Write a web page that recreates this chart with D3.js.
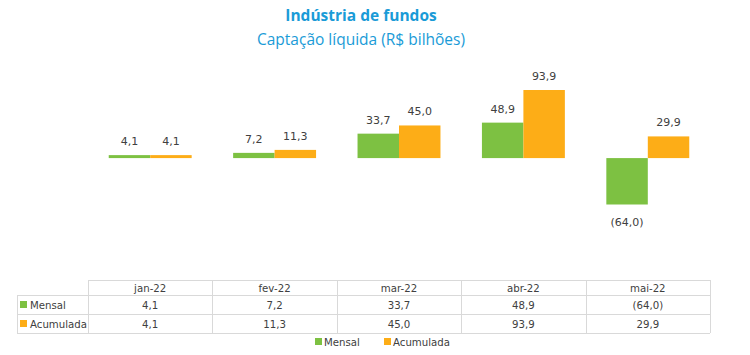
<!DOCTYPE html>
<html><head><meta charset="utf-8">
<script src="https://cdn.jsdelivr.net/npm/d3@7"></script>
<style>body{margin:0;background:#fff}svg{display:block}</style>
</head><body>
<svg id="c" width="750" height="355"></svg>
<script>
const categories = ["jan-22","fev-22","mar-22","abr-22","mai-22"];
const seriesNames = ["Mensal","Acumulada"];
const mensal = [4.1, 7.2, 33.7, 48.9, -64.0];
const acumulada = [4.1, 11.3, 45.0, 93.9, 29.9];
const colors = ["#7dc142","#fdad17"];

const fmt = v => { const s = Math.abs(v).toFixed(1).replace(".", ","); return v < 0 ? "(" + s + ")" : s; };
const svg = d3.select("#c");
const font = "DejaVu Sans, Verdana, sans-serif";
const txt = "#404040";
const fs = 10.2;

svg.append("text").attr("x",361).attr("y",21).attr("text-anchor","middle")
  .attr("font-family","Open Sans, sans-serif").attr("font-weight","bold").attr("font-size",15.5)
  .attr("fill","#1a9bd7").text("Indústria de fundos");
svg.append("text").attr("x",361).attr("y",45).attr("text-anchor","middle")
  .attr("font-family","Open Sans, sans-serif").attr("font-size",15.5)
  .attr("fill","#1a9bd7").text("Captação líquida (R$ bilhões)");

const x0 = d3.scaleBand().domain(categories).range([88,710]).paddingInner(0).paddingOuter(0);
const x1 = d3.scaleBand().domain(seriesNames).range([0, x0.bandwidth()]).paddingInner(0).paddingOuter(0.5);
const y = d3.scaleLinear().domain([-64, 93.9]).range([204.5, 90]);

const data = [mensal, acumulada];
data.forEach((arr, si) => {
  const g = svg.append("g");
  g.selectAll("rect").data(arr).join("rect")
    .attr("x",(d,i)=>x0(categories[i]) + x1(seriesNames[si]))
    .attr("width", x1.bandwidth())
    .attr("y", d => y(Math.max(0,d)))
    .attr("height", d => Math.abs(y(d)-y(0)))
    .attr("fill", colors[si]);
  g.selectAll("text").data(arr).join("text")
    .attr("x",(d,i)=>x0(categories[i]) + x1(seriesNames[si]) + x1.bandwidth()/2)
    .attr("y", d => d>=0 ? y(d) - 10 : y(d) + 21)
    .attr("text-anchor","middle").attr("font-family",font).attr("font-size",fs+0.8)
    .attr("fill",txt).text(fmt);
});

// data table
const tTop = 280, rowH = [15, 19, 19], left = 17;
const tb = svg.append("g").attr("stroke","#d9d9d9").attr("stroke-width",1).attr("fill","none");
const rowY = [tTop, tTop+rowH[0], tTop+rowH[0]+rowH[1], tTop+rowH[0]+rowH[1]+rowH[2]];
tb.append("line").attr("x1",88).attr("x2",710).attr("y1",rowY[0]+0.5).attr("y2",rowY[0]+0.5);
for (let r=1;r<4;r++) tb.append("line").attr("x1",left).attr("x2",710).attr("y1",rowY[r]+0.5).attr("y2",rowY[r]+0.5);
tb.append("line").attr("x1",left+0.5).attr("x2",left+0.5).attr("y1",rowY[1]).attr("y2",rowY[3]);
const colEdges = [88].concat(categories.map(c => x0(c)+x0.bandwidth()));
colEdges.forEach(xe => tb.append("line").attr("x1",Math.round(xe)+0.5).attr("x2",Math.round(xe)+0.5).attr("y1",rowY[0]).attr("y2",rowY[3]));

const tt = svg.append("g").attr("font-family",font).attr("font-size",fs).attr("fill",txt).attr("text-anchor","middle");
categories.forEach((c,i) => {
  const cx = x0(c)+x0.bandwidth()/2;
  tt.append("text").attr("x",cx).attr("y",rowY[0]+12).text(c);
  tt.append("text").attr("x",cx).attr("y",rowY[1]+14).text(fmt(mensal[i]));
  tt.append("text").attr("x",cx).attr("y",rowY[2]+14).text(fmt(acumulada[i]));
});
seriesNames.forEach((n,si) => {
  svg.append("rect").attr("x",20).attr("y",rowY[1+si]+6).attr("width",7).attr("height",7).attr("fill",colors[si]);
  svg.append("text").attr("x",30).attr("y",rowY[1+si]+14).attr("font-family",font).attr("font-size",fs).attr("fill",txt).text(n);
});

// legend
const legX = [315, 384];
seriesNames.forEach((n,si) => {
  svg.append("rect").attr("x",legX[si]).attr("y",338).attr("width",7).attr("height",7).attr("fill",colors[si]);
  svg.append("text").attr("x",legX[si]+9).attr("y",346).attr("font-family",font).attr("font-size",fs).attr("fill",txt).text(n);
});
</script>
</body></html>
